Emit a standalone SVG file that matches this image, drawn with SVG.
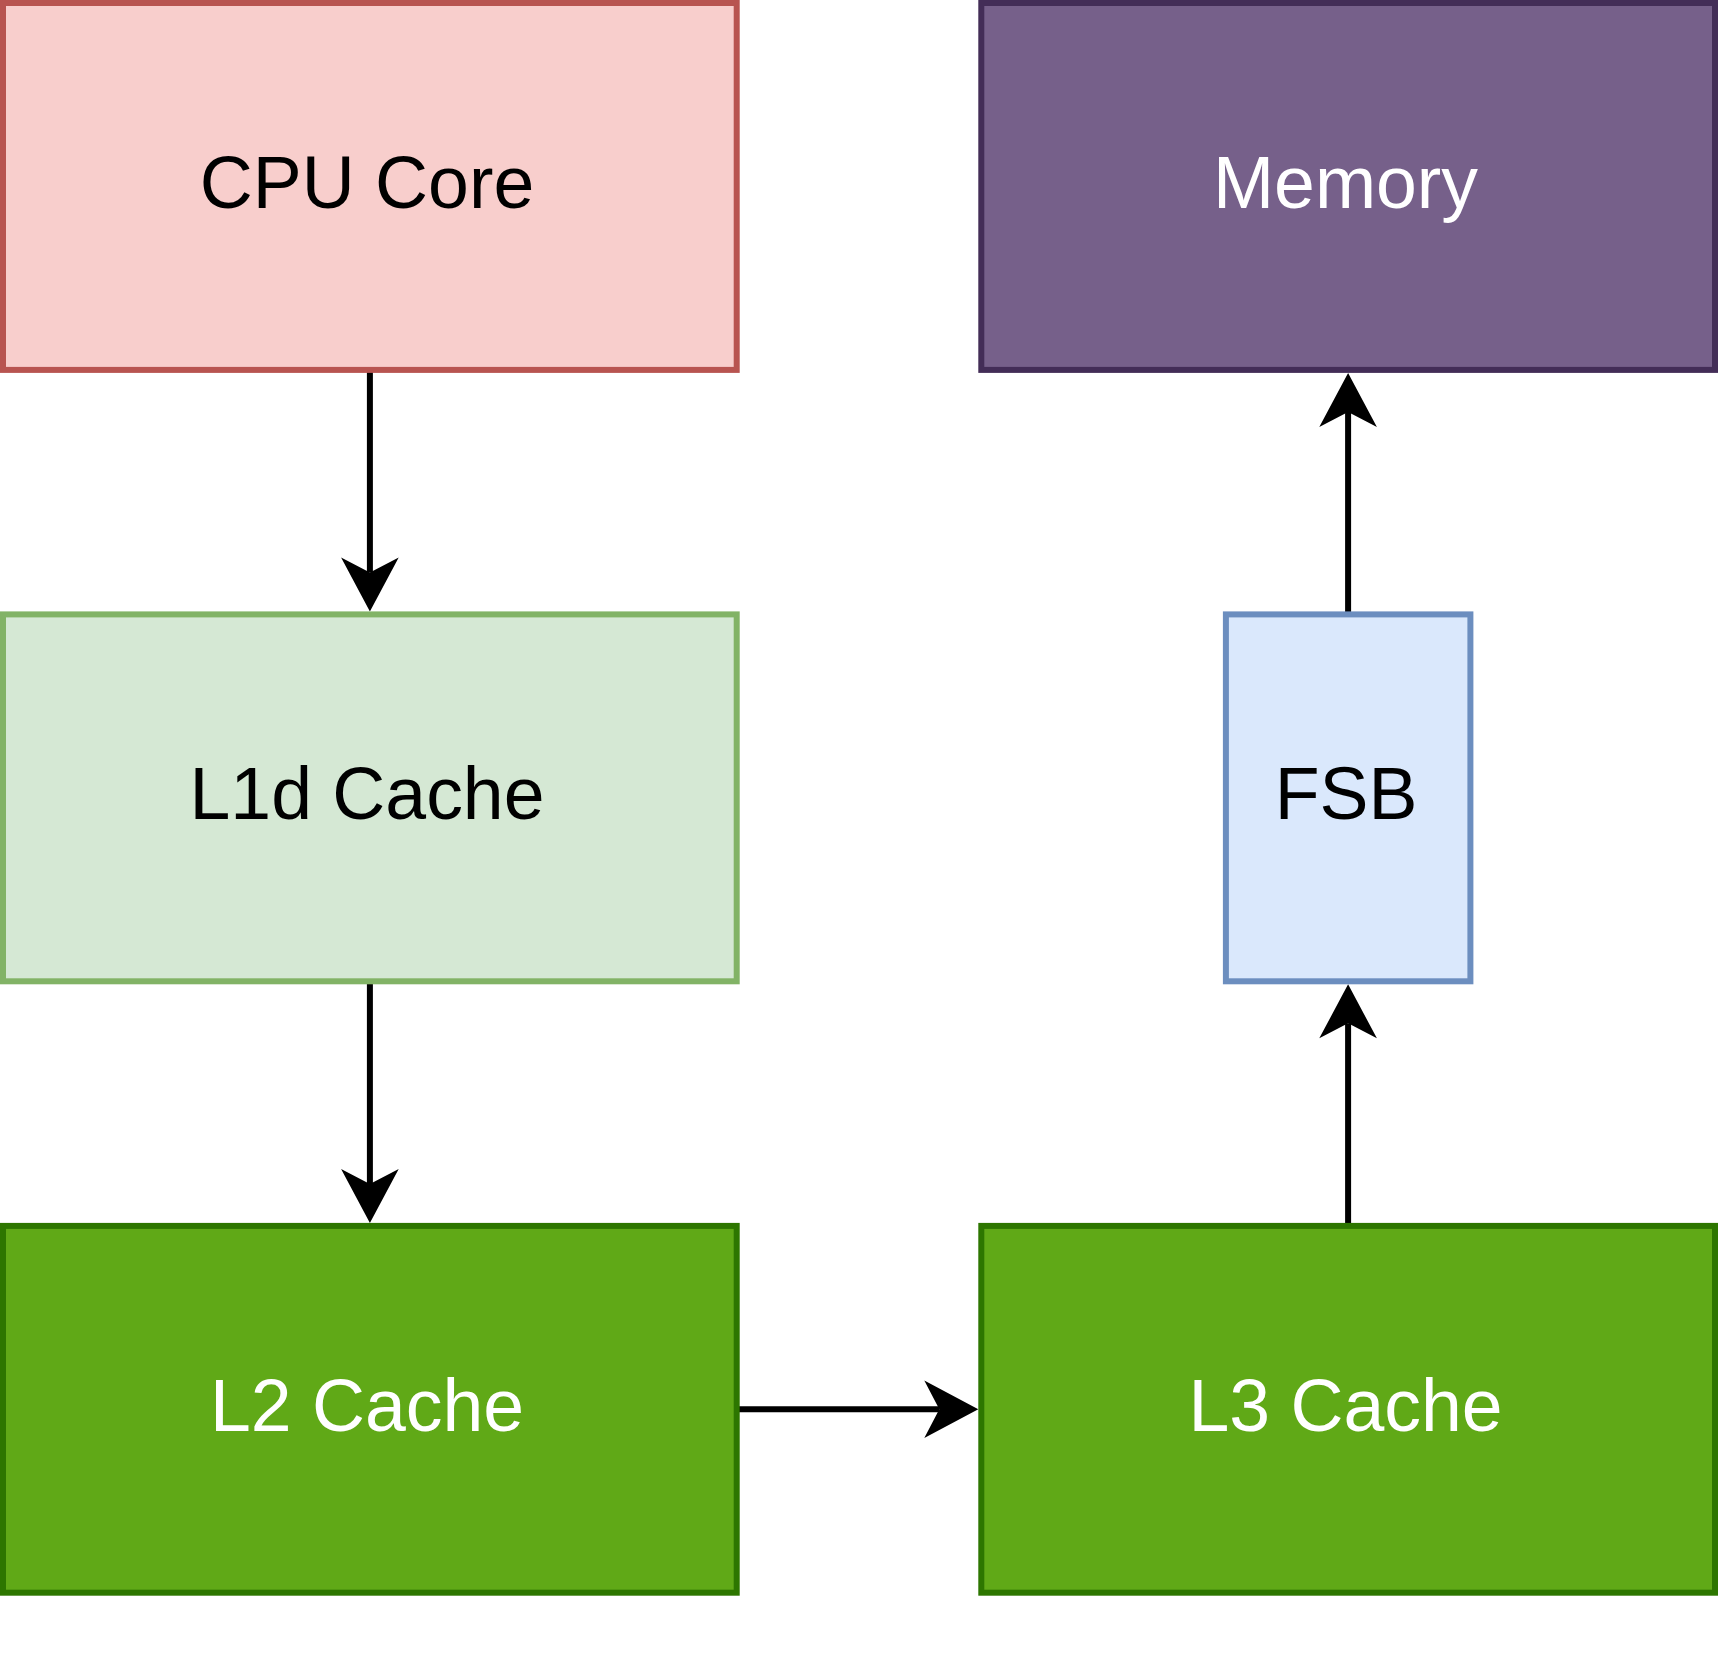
<svg xmlns="http://www.w3.org/2000/svg" width="1718" height="1678" viewBox="0 0 1718 1678">
<style>
.box{stroke-width:6}
.lbl{font-family:"Liberation Sans",Arial,Helvetica,sans-serif;font-size:73.4px;text-anchor:middle}
.dark{fill:#000000}
.light{fill:#ffffff}
.edge{stroke:#000000;stroke-width:6;fill:none}
</style>
<defs>
<marker id="arrow" markerUnits="userSpaceOnUse" viewBox="-16 -30 57 60" refX="0" refY="0" markerWidth="57" markerHeight="60" orient="auto">
<path d="M39,0 L-15,-28.8 L0,0 L-15,28.8 Z" fill="#000000"/>
</marker>
</defs>
<rect width="1718" height="1678" fill="#ffffff"/>
<g id="connectors">
<line class="edge" x1="369.9" y1="369.9" x2="369.9" y2="572.4" marker-end="url(#arrow)"/>
<line class="edge" x1="369.9" y1="981.3" x2="369.9" y2="1183.9" marker-end="url(#arrow)"/>
<line class="edge" x1="736.7" y1="1409.3" x2="939.3" y2="1409.3" marker-end="url(#arrow)"/>
<line class="edge" x1="1348.1" y1="1225.9" x2="1348.1" y2="1023.3" marker-end="url(#arrow)"/>
<line class="edge" x1="1348.1" y1="614.4" x2="1348.1" y2="411.9" marker-end="url(#arrow)"/>
</g>
<g id="cpu-core">
<rect class="box" x="3" y="3" width="733.7" height="366.9" fill="#f8cecc" stroke="#b85450"/>
<text class="lbl dark" x="367" y="208.4">CPU Core</text>
</g>
<g id="memory">
<rect class="box" x="981.3" y="3" width="733.7" height="366.9" fill="#76608a" stroke="#432d57"/>
<text class="lbl light" x="1345.5" y="208.4">Memory</text>
</g>
<g id="l1d-cache">
<rect class="box" x="3" y="614.4" width="733.7" height="366.9" fill="#d5e8d4" stroke="#82b366"/>
<text class="lbl dark" x="367" y="819.4">L1d Cache</text>
</g>
<g id="fsb">
<rect class="box" x="1225.9" y="614.4" width="244.5" height="366.9" fill="#dae8fc" stroke="#6c8ebf"/>
<text class="lbl dark" x="1346" y="819.4">FSB</text>
</g>
<g id="l2-cache">
<rect class="box" x="3" y="1225.9" width="733.7" height="366.8" fill="#60a917" stroke="#2d7600"/>
<text class="lbl light" x="367" y="1430.8">L2 Cache</text>
</g>
<g id="l3-cache">
<rect class="box" x="981.3" y="1225.9" width="733.7" height="366.8" fill="#60a917" stroke="#2d7600"/>
<text class="lbl light" x="1345.5" y="1430.8">L3 Cache</text>
</g>
</svg>
